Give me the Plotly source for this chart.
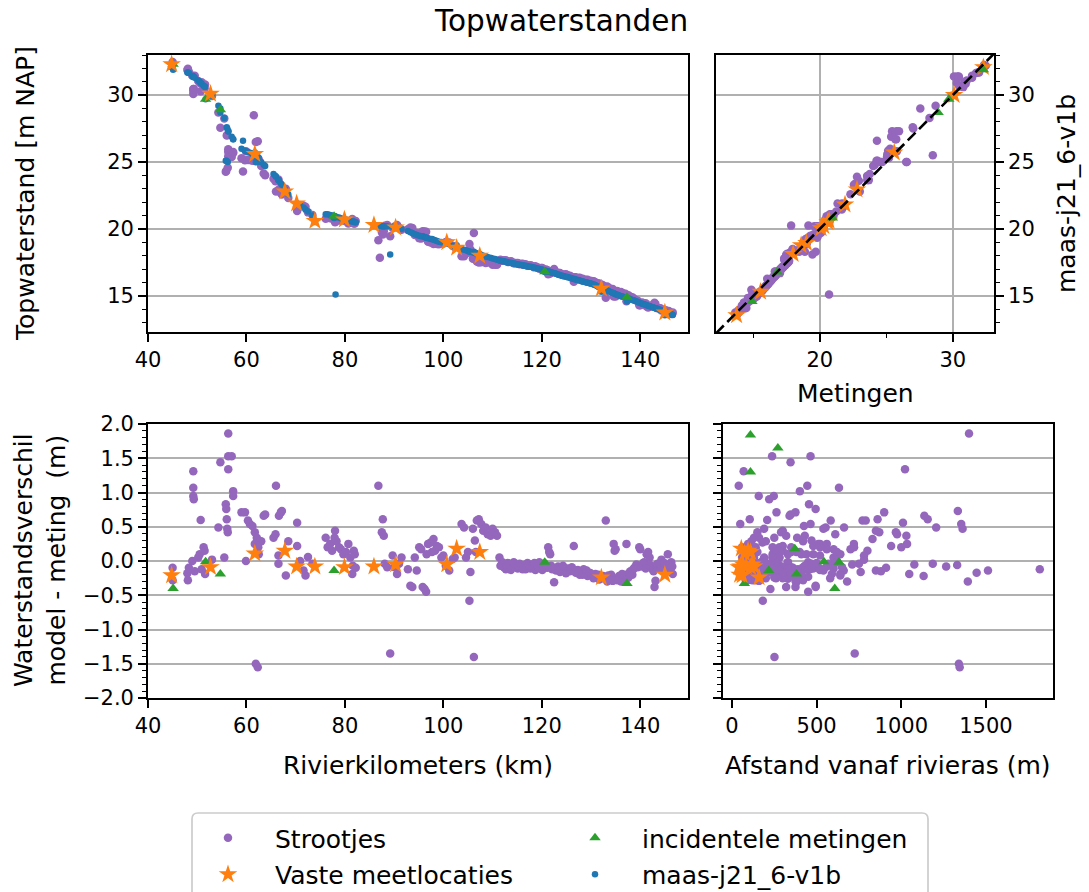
import numpy as np
import plotly.graph_objects as go

W, H = 1089, 892

# ---------------- data ----------------
# Strootjes: river km, model level (m NAP), difference model - measurement (m), distance to river axis (m)
strootjes_km = [
    45.0, 45.0, 48.0, 48.1, 48.3, 49.0, 49.2, 49.2, 49.2, 49.3,
    49.5, 50.2, 50.5, 50.7, 50.9, 51.3, 51.5, 51.6, 53.0, 54.3,
    54.7, 55.5, 55.8, 55.9, 56.0, 56.1, 56.2, 56.3, 56.3, 56.3,
    57.0, 57.3, 57.3, 59.0, 59.3, 59.7, 59.9, 60.3, 60.7, 61.2,
    61.5, 61.7, 61.7, 61.9, 62.1, 62.3, 62.4, 62.5, 63.0, 63.5,
    63.8, 65.5, 65.9, 66.0, 66.5, 66.5, 66.6, 67.0, 67.2, 68.0,
    68.5, 70.3, 70.3, 70.9, 71.6, 72.0, 72.5, 73.4, 76.1, 76.5,
    77.0, 77.4, 77.9, 78.0, 78.1, 78.3, 78.8, 79.2, 79.7, 80.2,
    80.7, 81.1, 81.5, 81.6, 81.8, 82.0, 82.2, 86.8, 87.1, 87.5,
    87.7, 87.9, 88.1, 88.6, 89.2, 89.7, 90.1, 90.6, 91.0, 91.5,
    92.8, 93.3, 93.7, 94.2, 94.6, 95.1, 95.5, 95.8, 96.2, 96.5,
    96.6, 96.9, 97.4, 97.7, 98.0, 98.3, 98.7, 99.1, 99.6, 100.0,
    100.5, 101.2, 101.9, 102.3, 103.7, 104.2, 104.6, 105.0, 105.3, 105.5,
    106.0, 106.2, 106.4, 106.6, 106.8, 107.2, 107.7, 108.1, 108.6, 109.0,
    109.6, 110.0, 110.5, 110.9, 111.4, 111.9, 112.3, 112.7, 113.1, 113.5,
    113.9, 114.3, 114.7, 115.1, 115.5, 115.9, 116.3, 116.7, 117.1, 117.5,
    117.9, 118.3, 118.7, 119.1, 119.5, 119.9, 120.3, 120.8, 121.3, 121.5,
    121.7, 122.1, 122.5, 122.9, 123.3, 123.7, 124.1, 124.5, 124.9, 125.3,
    125.7, 126.1, 126.5, 126.9, 127.3, 127.7, 128.1, 128.5, 128.9, 129.3,
    129.7, 130.1, 130.5, 130.9, 131.3, 131.7, 132.5, 133.0, 133.3, 133.7,
    134.1, 134.6, 134.8, 135.0, 135.3, 135.7, 136.1, 136.5, 136.9, 137.2,
    137.6, 138.0, 138.4, 138.8, 139.2, 139.8, 140.0, 140.4, 140.8, 141.3,
    141.6, 142.0, 142.5, 142.9, 143.1, 143.5, 143.9, 144.3, 144.7, 145.2,
    145.6, 146.0, 146.3, 146.6,
    111.6, 112.0, 112.9, 113.7, 114.5, 115.3, 116.1, 116.9, 117.7, 118.5,
    119.3, 120.1, 120.6, 121.1, 121.9, 122.7, 123.5, 124.3, 125.1, 125.9,
    126.7, 127.5, 128.3, 129.1, 129.9, 130.7, 131.5, 132.2, 133.5, 134.4,
    135.5, 136.3, 137.0, 137.8, 138.6, 139.5, 140.6, 141.1, 141.9, 142.7,
    143.3, 144.1, 144.9, 145.4, 145.8, 146.5,
]
strootjes_model = [
    32.25, 32.20, 31.70, 31.70, 31.65, 31.45, 31.40, 31.40, 31.40, 31.35,
    31.30, 31.10, 31.00, 30.90, 30.85, 30.70, 30.65, 30.60, 29.95, 29.20,
    29.00, 28.30, 25.10, 25.10, 27.60, 27.50, 25.00, 27.30, 27.30, 27.30,
    26.90, 26.70, 26.70, 26.00, 26.60, 25.85, 25.80, 25.75, 25.70, 25.60,
    25.50, 25.50, 25.50, 25.00, 25.40, 25.00, 25.35, 25.30, 25.00, 24.80,
    24.70, 24.10, 23.95, 23.90, 23.65, 23.65, 23.60, 23.40, 23.30, 22.80,
    22.60, 21.90, 21.90, 21.75, 21.60, 21.45, 21.30, 21.00, 21.10, 21.10,
    21.05, 21.00, 20.95, 20.95, 15.10, 20.90, 20.85, 20.80, 20.75, 20.70,
    20.65, 20.60, 20.55, 20.55, 20.55, 20.50, 20.50, 20.25, 20.25, 20.20,
    20.20, 20.20, 20.20, 20.20, 18.10, 20.15, 20.10, 20.10, 20.05, 20.00,
    19.85, 19.75, 19.70, 19.60, 19.55, 19.50, 19.45, 19.45, 19.40, 19.35,
    19.35, 19.30, 19.25, 19.25, 19.20, 19.15, 19.10, 19.05, 19.00, 19.00,
    18.95, 18.85, 18.75, 18.70, 18.50, 18.45, 18.40, 18.35, 18.30, 18.30,
    18.25, 18.30, 18.20, 18.20, 18.15, 18.10, 18.05, 18.00, 17.95, 17.90,
    17.85, 17.80, 17.75, 17.70, 17.65, 17.60, 17.58, 17.55, 17.50, 17.47,
    17.45, 17.42, 17.38, 17.35, 17.32, 17.30, 17.27, 17.25, 17.22, 17.18,
    17.15, 17.12, 17.08, 17.05, 17.00, 16.97, 16.93, 16.88, 16.82, 16.80,
    16.78, 16.73, 16.70, 16.65, 16.60, 16.55, 16.50, 16.47, 16.43, 16.40,
    16.35, 16.30, 16.27, 16.23, 16.18, 16.15, 16.10, 16.06, 16.02, 15.98,
    15.95, 15.90, 15.85, 15.80, 15.72, 15.65, 15.55, 15.45, 15.40, 15.33,
    15.27, 15.20, 15.15, 15.12, 15.08, 15.03, 14.98, 14.93, 14.88, 14.85,
    14.80, 14.75, 14.70, 14.65, 14.60, 14.50, 14.47, 14.42, 14.37, 14.30,
    14.27, 14.22, 14.15, 14.10, 14.08, 14.03, 13.98, 13.92, 13.87, 13.80,
    13.75, 13.68, 13.62, 13.57,
    17.63, 17.60, 17.53, 17.46, 17.40, 17.33, 17.28, 17.23, 17.17, 17.10,
    17.02, 16.95, 16.90, 16.84, 16.76, 16.68, 16.58, 16.49, 16.41, 16.33,
    16.25, 16.17, 16.08, 16.00, 15.93, 15.83, 15.69, 15.58, 15.37, 15.23,
    15.06, 14.96, 14.87, 14.78, 14.68, 14.55, 14.40, 14.33, 14.23, 14.13,
    14.06, 13.95, 13.85, 13.78, 13.72, 13.59,
]
strootjes_verschil = [
    -0.10, -0.28, -0.18, -0.28, -0.10, 0.00, 1.31, 1.07, 0.95, 0.90,
    -0.15, 0.05, 0.10, 0.60, -0.12, 0.20, 0.15, -0.19, 0.02, 0.49,
    1.44, 0.05, 0.83, 0.76, 0.61, 0.47, 0.42, 1.86, 1.53, 1.34,
    1.53, 1.02, 0.95, 0.71, 2.30, 0.71, 0.00, 0.59, 0.54, 0.51,
    -3.00, 0.42, 0.25, -1.50, 0.34, -1.55, 0.20, 0.10, 0.29, 0.66,
    0.68, 0.34, 0.39, 1.10, -0.04, 0.08, 0.66, 0.71, 0.73, -0.21,
    0.29, 0.56, 0.22, 0.00, -0.14, -0.21, 0.06, -0.04, 0.34, 0.20,
    0.25, 0.15, 0.34, 0.44, -5.60, 0.29, 0.20, 0.17, 0.10, 0.13,
    0.25, 0.05, -0.19, -0.07, 0.15, 0.10, -0.10, 1.10, 2.40, 0.42,
    0.61, 0.37, -0.04, -0.09, -1.35, 0.08, -0.09, -0.19, -0.04, 0.05,
    -0.12, -0.36, -0.38, 0.05, -0.14, 0.20, 0.17, -0.38, -0.41, -0.45,
    0.10, 0.25, 0.27, 0.13, 0.32, 0.15, 0.22, 0.20, 0.05, 0.08,
    -0.07, -0.14, 0.03, 0.05, 0.54, 0.49, 0.05, 0.13, -0.58, -0.16,
    0.47, -1.40, 0.30, 0.13, 0.59, 0.61, 0.54, 0.44, 0.49, 0.39,
    0.37, 0.47, 0.42, 0.37, 0.05, -0.05, -0.09, -0.12, -0.03, -0.08,
    -0.10, -0.02, -0.07, -0.11, -0.04, -0.09, -0.06, -0.12, -0.03, -0.08,
    -0.10, -0.05, -0.13, -0.07, -0.02, -0.11, -0.06, -0.09, 0.20, 0.13,
    0.10, -0.12, -0.31, -0.14, -0.08, -0.16, -0.10, -0.13, -0.18, -0.11,
    -0.15, -0.09, 0.22, -0.17, -0.13, -0.20, -0.16, -0.12, -0.19, -0.22,
    -0.17, -0.21, -0.25, -0.19, -0.23, -0.27, -0.22, 0.59, -0.30, -0.25,
    -0.20, 0.25, 0.15, 0.17, -0.28, -0.22, -0.30, -0.26, -0.20, 0.25,
    -0.24, -0.15, -0.20, -0.10, -0.05, 0.20, 0.17, -0.08, -0.02, 0.10,
    0.13, -0.06, -0.12, -0.38, -0.29, -0.04, -0.10, 0.02, -0.08, -0.13,
    0.10, -0.09, -0.02, -0.19,
    -0.07, -0.02, -0.06, -0.13, -0.04, -0.08, -0.12, -0.06, -0.11, -0.03,
    -0.09, -0.13, -0.04, -0.10, -0.07, -0.11, -0.13, -0.07, -0.15, -0.12,
    -0.14, -0.16, -0.20, -0.14, -0.18, -0.22, -0.20, -0.25, -0.21, -0.29,
    -0.25, -0.19, -0.28, -0.17, -0.12, -0.09, -0.03, -0.11, 0.05, -0.15,
    -0.06, -0.12, -0.03, -0.07, -0.15, -0.08,
]
strootjes_afstand = [
    85, 120, 60, 140, 230, 180, 69, 632, 247, 220,
    300, 95, 410, 208, 160, 350, 75, 270, 130, 553,
    346, 190, 455, 494, 1156, 1362, 290, 1400, 237, 1022,
    464, 401, 158, 263, 640, 899, 105, 583, 464, 425,
    420, 870, 95, 1340, 385, 1345, 140, 330, 200, 1136,
    346, 250, 610, 445, 170, 520, 340, 375, 1334, 300,
    115, 1010, 480, 620, 90, 410, 240, 750, 160, 280,
    520, 90, 130, 300, 200, 420, 60, 700, 240, 380,
    560, 110, 640, 330, 800, 260, 180, 40, 300, 150,
    105, 430, 220, 510, 725, 70, 350, 590, 150, 280,
    460, 494, 375, 120, 660, 240, 560, 320, 227, 450,
    90, 720, 180, 400, 830, 300, 940, 520, 130, 780,
    270, 850, 190, 600, 1354, 662, 60, 350, 182, 230,
    540, 251, 470, 140, 771, 860, 49, 850, 1206, 975,
    1030, 190, 968, 320, 280, 150, 420, 90, 610, 230,
    360, 120, 480, 200, 1186, 310, 60, 540, 170, 1265,
    260, 1077, 140, 450, 330, 80, 1330, 210, 721, 150,
    440, 290, 380, 1512, 560, 240, 910, 340, 70, 480,
    190, 650, 300, 1445, 420, 250, 760, 350, 100, 1132,
    210, 640, 300, 1047, 450, 80, 370, 790, 1393, 580,
    140, 1034, 280, 600, 420, 190, 680, 330, 110, 510,
    250, 880, 390, 170, 710, 1000, 360, 230, 90, 480,
    620, 280, 1818, 494, 375, 570, 200, 780, 330, 110,
    640, 260, 450, 180,
    210, 330, 170, 520, 260, 80, 390, 230, 600, 190,
    310, 140, 470, 260, 90, 350, 200, 430, 160, 280,
    540, 120, 330, 240, 410, 130, 290, 200, 350, 160,
    260, 380, 90, 300, 450, 210, 150, 330, 240, 390,
    120, 270, 500, 190, 340, 230,
]

# Vaste meetlocaties: river km, measured level, difference, distance
vaste_km = [44.8, 52.7, 61.7, 67.8, 70.2, 73.9, 79.9, 85.9, 90.3, 100.7, 102.7, 107.4, 132.1, 145.0]
vaste_meting = [32.30, 30.10, 25.60, 22.80, 21.90, 20.60, 20.70, 20.30, 20.10, 19.00, 18.60, 18.00, 15.55, 13.75]
vaste_verschil = [-0.21, -0.09, 0.11, 0.15, -0.08, -0.08, -0.09, -0.08, -0.05, -0.05, 0.18, 0.13, -0.24, -0.20]
vaste_afstand = [60, 110, 75, 95, 50, 130, 40, 85, 120, 65, 55, 110, 160, 45]

# Incidentele metingen (None = no km / level available)
incid_km = [45.1, 51.7, 54.7, 77.8, 120.6, 137.3, None, None, None, None]
incid_meting = [32.30, 29.70, 28.90, 20.95, 16.80, 14.90, None, None, None, None]
incid_verschil = [-0.40, -0.01, -0.19, -0.14, -0.02, -0.33, 1.84, 1.65, 1.30, 0.18]
incid_afstand = [607, 543, 381, 217, 632, 73, 109, 271, 109, 371]

# ---------------- derived ----------------
def arr(v):
    return np.array([np.nan if a is None else a for a in v], dtype=float)

s_km, s_model, s_diff, s_afst = map(arr, (strootjes_km, strootjes_model, strootjes_verschil, strootjes_afstand))
s_meting = s_model - s_diff
v_km, v_meting, v_diff, v_afst = map(arr, (vaste_km, vaste_meting, vaste_verschil, vaste_afstand))
v_model = v_meting + v_diff
i_km, i_meting, i_diff, i_afst = map(arr, (incid_km, incid_meting, incid_verschil, incid_afstand))
i_model = i_meting + i_diff

all_km = np.concatenate([s_km, v_km, i_km])
all_model = np.concatenate([s_model, v_model, i_model])

PURPLE, ORANGE, GREEN, BLUE = '#9467bd', '#ff7f0e', '#2ca02c', '#1f77b4'
FONT = 'DejaVu Sans'

def px(x):
    return x / W

def py(y):
    return 1 - y / H

fig = go.Figure()

def pts(x, y, color, size, symbol, xa, ya, name, group, show=False, legend='legend', rank=1):
    fig.add_trace(go.Scatter(
        x=x, y=y, mode='markers', name=name, legendgroup=group, showlegend=show,
        legend=legend, legendrank=rank,
        marker=dict(color=color, size=size, symbol=symbol, line=dict(width=0)),
        xaxis=xa, yaxis=ya))

# top-left: levels along the river
pts(s_km, s_meting, PURPLE, 8.5, 'circle', 'x', 'y', 'Strootjes', 's', True, 'legend', 1)
pts(all_km, all_model, BLUE, 6.5, 'circle', 'x', 'y', 'maas-j21_6-v1b', 'm', True, 'legend2', 2)
pts(i_km, i_meting, GREEN, 10, 'triangle-up', 'x', 'y', 'incidentele metingen', 'i', True, 'legend2', 1)
pts(v_km, v_meting, ORANGE, 14, 'star', 'x', 'y', 'Vaste meetlocaties', 'v', True, 'legend', 2)

# top-right: model vs measurement
pts(s_meting, s_model, PURPLE, 8.5, 'circle', 'x2', 'y2', 'Strootjes', 's')
pts(v_meting, v_model, ORANGE, 14, 'star', 'x2', 'y2', 'Vaste meetlocaties', 'v')
pts(i_meting, i_model, GREEN, 10, 'triangle-up', 'x2', 'y2', 'incidentele metingen', 'i')
diag = [12.2, 33.1]
fig.add_trace(go.Scatter(x=diag, y=diag, mode='lines', showlegend=False,
                         line=dict(color='black', width=2.6, dash='11px,5px'),
                         xaxis='x2', yaxis='y2', hoverinfo='skip'))

# bottom-left: difference along the river
pts(s_km, s_diff, PURPLE, 8.5, 'circle', 'x3', 'y3', 'Strootjes', 's')
pts(i_km, i_diff, GREEN, 10, 'triangle-up', 'x3', 'y3', 'incidentele metingen', 'i')
pts(v_km, v_diff, ORANGE, 14, 'star', 'x3', 'y3', 'Vaste meetlocaties', 'v')

# bottom-right: difference vs distance to river axis
pts(s_afst, s_diff, PURPLE, 8.5, 'circle', 'x4', 'y4', 'Strootjes', 's')
pts(i_afst, i_diff, GREEN, 10, 'triangle-up', 'x4', 'y4', 'incidentele metingen', 'i')
pts(v_afst, v_diff, ORANGE, 14, 'star', 'x4', 'y4', 'Vaste meetlocaties', 'v')

# ---------------- axes ----------------
LW = 1.7
GRID = '#b0b0b0'
base = dict(showline=True, linecolor='black', linewidth=LW, mirror=True, automargin=False,
            ticks='outside', ticklen=8, tickwidth=LW, tickcolor='black',
            tickfont=dict(family=FONT, size=21, color='black'),
            zeroline=False, showgrid=False, gridcolor=GRID, gridwidth=LW)

def minor(d):
    return dict(ticks='outside', dtick=d, ticklen=4.5, tickwidth=1.2, tickcolor='black', showgrid=False)

top_dom = [py(332), py(55)]
bot_dom = [py(698), py(424)]

fig.update_layout(
    xaxis=dict(base, domain=[px(148), px(688)], range=[40, 149.7], tick0=40, dtick=20, anchor='y'),
    yaxis=dict(base, domain=top_dom, range=[12.3, 33.0], tick0=0, dtick=5, minor=minor(1),
               showgrid=True, anchor='x'),
    xaxis2=dict(base, domain=[px(716), px(994)], range=[12.2, 33.1], tick0=0, dtick=10,
                minor=minor(5), showgrid=True, anchor='y2'),
    yaxis2=dict(base, domain=top_dom, range=[12.3, 33.0], tick0=0, dtick=5, minor=minor(1),
                showgrid=True, side='right', anchor='x2'),
    xaxis3=dict(base, domain=[px(148), px(688)], range=[40, 149.7], tick0=40, dtick=20, anchor='y3'),
    yaxis3=dict(base, domain=bot_dom, range=[-2, 2], tick0=0, dtick=0.5, tickformat='.1f',
                minor=minor(0.1), showgrid=True, anchor='x3'),
    xaxis4=dict(base, domain=[px(723), px(1053)], range=[-53, 1896], tick0=0, dtick=500, anchor='y4'),
    yaxis4=dict(base, domain=bot_dom, range=[-2, 2], tick0=0, dtick=0.5, showticklabels=False,
                minor=minor(0.1), showgrid=True, anchor='x4'),
)

# ---------------- texts ----------------
def label(text, x, y, size=25, angle=0):
    fig.add_annotation(text=text, x=px(x), y=py(y), xref='paper', yref='paper',
                       showarrow=False, textangle=angle, xanchor='center', yanchor='middle',
                       font=dict(family=FONT, size=size, color='black'))

label('Topwaterstanden', 561, 21, size=29.5)
label('Topwaterstand [m NAP]', 26, 194, angle=-90)
label('maas-j21_6-v1b', 1067, 194, angle=-90)
label('Metingen', 855, 393)
label('Waterstandsverschil<br>model - meting\u00a0 (m)', 40, 560, angle=-90)
label('Rivierkilometers (km)', 418, 765)
label('Afstand vanaf rivieras (m)', 888, 765)

# ---------------- legend ----------------
leg = dict(font=dict(family=FONT, size=25, color='black'), bgcolor='rgba(0,0,0,0)', borderwidth=0,
           itemwidth=84, itemsizing='trace', tracegroupgap=1, orientation='v',
           xanchor='left', yanchor='bottom', y=-5 / H)
fig.update_layout(
    showlegend=True,
    legend=dict(leg, x=px(181)),
    legend2=dict(leg, x=px(548)),
)

# legend frame (rounded, light grey)
x0, y0, x1, y1, r = 192, 813, 928, 905, 6
path = (f"M {px(x0 + r)},{py(y0)} L {px(x1 - r)},{py(y0)} Q {px(x1)},{py(y0)} {px(x1)},{py(y0 + r)} "
        f"L {px(x1)},{py(y1)} L {px(x0)},{py(y1)} L {px(x0)},{py(y0 + r)} "
        f"Q {px(x0)},{py(y0)} {px(x0 + r)},{py(y0)} Z")
fig.add_shape(type='path', path=path, xref='paper', yref='paper',
              line=dict(color='#cccccc', width=1.7), fillcolor='rgba(255,255,255,0.8)', layer='below')

fig.update_layout(width=W, height=H, margin=dict(l=0, r=0, t=0, b=0, autoexpand=False),
                  paper_bgcolor='white', plot_bgcolor='white',
                  font=dict(family=FONT, size=21, color='black'))

fig.write_html('out.html')
